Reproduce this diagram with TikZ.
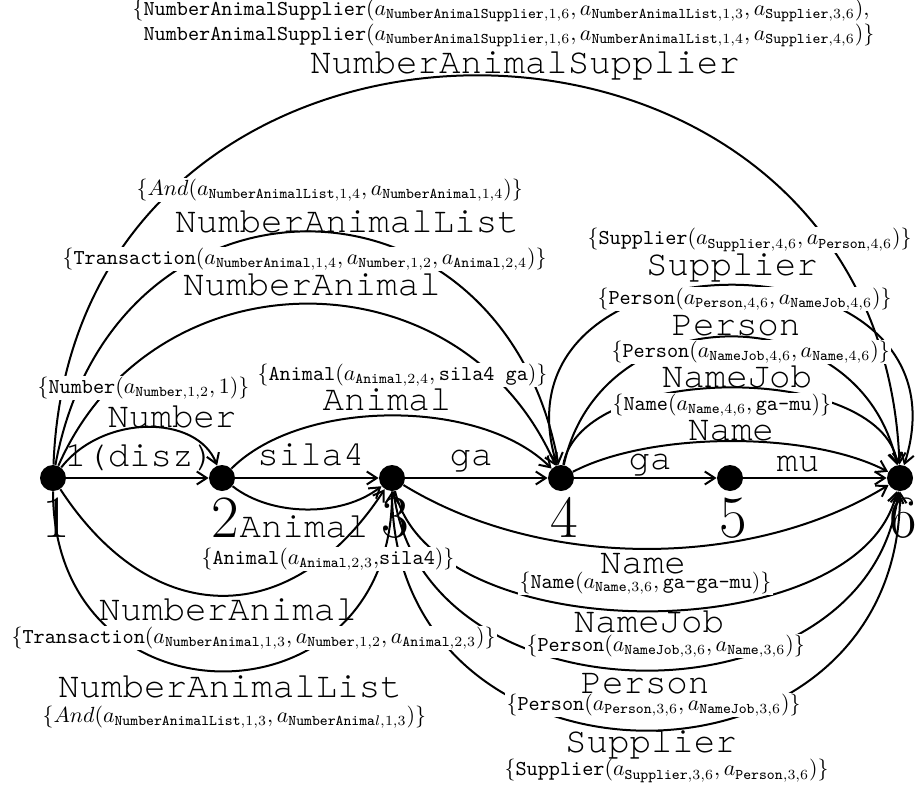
\documentclass[tikz,border=0pt]{standalone}
\usepackage{fontspec}
\newfontfamily\lblfont{texgyrecursor-regular.otf}
\usetikzlibrary{arrows.meta}

% argument term a_{Category,i,j}
\newcommand\asub[2]{a_{\mathtt{#1},#2}}

\begin{document}
\begin{tikzpicture}[x=0.5pt,y=-0.5pt,
  vert/.style={circle,fill=black,minimum size=13pt,inner sep=0pt},
  link/.style={line width=1pt,-{Straight Barb[length=5pt,width=6.5pt]}},
  lbl/.style={font=\lblfont\fontsize{17.9}{18}\selectfont,inner sep=0pt,anchor=base},
  ann/.style={fill=white,inner sep=0.6pt,anchor=west,font=\fontsize{10.6}{11}\selectfont},
  num/.style={font=\fontsize{30}{30}\selectfont,inner sep=0pt,anchor=base}]
\useasboundingbox (0,0) rectangle (917,793);

% chart vertices
\node[vert] (n1) at (53,478) {};
\node[vert] (n2) at (222,478) {};
\node[vert] (n3) at (392,478) {};
\node[vert] (n4) at (561,478) {};
\node[vert] (n5) at (730,478) {};
\node[vert] (n6) at (900,478) {};

% lexical edges
\draw[link] (n1) -- (n2);
\draw[link] (n2) -- (n3);
\draw[link] (n3) -- (n4);
\draw[link] (n4) -- (n5);
\draw[link] (n5) -- (n6);

% constituent edges above the line
\draw[link] (n1) .. controls (103,414) and (197,414) .. (n2);
\draw[link] (n2) .. controls (302,398) and (481,398) .. (n4);
\draw[link] (n1) .. controls (153,250) and (461,250) .. (n4);
\draw[link] (n1) .. controls (113,154) and (501,154) .. (n4);
\draw[link] (n1) .. controls (73,-54) and (880,-54) .. (n6);
\draw[link] (n4) .. controls (651,431) and (810,431) .. (n6);
\draw[link] (n4) .. controls (581,362) and (880,362) .. (n6);
\draw[link] (n4) .. controls (601,294) and (860,294) .. (n6);
\draw[link] (n4) .. controls (481,225) and (980,225) .. (n6);

% constituent edges below the line
\draw[link] (n2) .. controls (272,517) and (342,517) .. (n3);
\draw[link] (n1) .. controls (153,631) and (292,631) .. (n3);
\draw[link] (n1) .. controls (53,731) and (392,731) .. (n3);
\draw[link] (n3) .. controls (542,570) and (750,570) .. (n6);
\draw[link] (n3) .. controls (432,651) and (860,651) .. (n6);
\draw[link] (n3) .. controls (422,730) and (870,730) .. (n6);
\draw[link] (n3) .. controls (392,810) and (900,810) .. (n6);

% semantic annotations (white boxes break the edges behind them)
\node[ann,align=left] (aNAS) at (131,23)
  {$\{\mathtt{NumberAnimalSupplier}(\asub{NumberAnimalSupplier}{1,6}, \asub{NumberAnimalList}{1,3}, \asub{Supplier}{3,6}),$\\
   $\phantom{\{}\mathtt{NumberAnimalSupplier}(\asub{NumberAnimalSupplier}{1,6}, \asub{NumberAnimalList}{1,4}, \asub{Supplier}{4,6})\}$};
\node[ann] (aNALu) at (135,190) {$\{And(\asub{NumberAnimalList}{1,4}, \asub{NumberAnimal}{1,4})\}$};
\node[ann] (aNAu) at (61,259) {$\{\mathtt{Transaction}(\asub{NumberAnimal}{1,4}, \asub{Number}{1,2}, \asub{Animal}{2,4})\}$};
\node[ann] (aNum) at (36,388) {$\{\mathtt{Number}(\asub{Number}{1,2}, 1)\}$};
\node[ann] (aAnu) at (256,375) {$\{\mathtt{Animal}(\asub{Animal}{2,4}, \mbox{\ttfamily sila4 ga})\}$};
\node[ann] (aSupu) at (586,240) {$\{\mathtt{Supplier}(\asub{Supplier}{4,6}, \asub{Person}{4,6})\}$};
\node[ann] (aPeru) at (596,299) {$\{\mathtt{Person}(\asub{Person}{4,6}, \asub{NameJob}{4,6})\}$};
\node[ann] (aNJu) at (610,352) {$\{\mathtt{Person}(\asub{NameJob}{4,6}, \asub{Name}{4,6})\}$};
\node[ann] (aNamu) at (611,405) {$\{\mathtt{Name}(\asub{Name}{4,6}, \mbox{\ttfamily ga-mu})\}$};
\node[ann] (aAnd) at (200,559) {$\{\mathtt{Animal}(\asub{Animal}{2,3},\!\mathtt{sila4})\}$};
\node[ann] (aNAd) at (10,638) {$\{\mathtt{Transaction}(\asub{NumberAnimal}{1,3}, \asub{Number}{1,2}, \asub{Animal}{2,3})\}$};
\node[ann] (aNALd) at (41,717) {$\{And(\asub{NumberAnimalList}{1,3}, a_{\mathtt{NumberAnima}l,1,3})\}$};
\node[ann] (aNamd) at (518,583) {$\{\mathtt{Name}(\asub{Name}{3,6}, \mbox{\ttfamily ga-ga-mu})\}$};
\node[ann] (aNJd) at (525,646) {$\{\mathtt{Person}(\asub{NameJob}{3,6}, \asub{Name}{3,6})\}$};
\node[ann] (aPerd) at (505,705) {$\{\mathtt{Person}(\asub{Person}{3,6}, \asub{NameJob}{3,6})\}$};
\node[ann] (aSupd) at (503,771) {$\{\mathtt{Supplier}(\asub{Supplier}{3,6}, \asub{Person}{3,6})\}$};

% vertex numbers
\node[num] (d1) at (56,537) {1};
\node[num] (d2) at (225,537) {2};
\node[num] (d3) at (395,537) {3};
\node[num] (d4) at (564,537) {4};
\node[num] (d5) at (733,537) {5};
\node[num] (d6) at (903,537) {6};

% words on the lexical edges
\node[lbl] (w1) at (140,466) {1(disz)};
\node[lbl] (w2) at (311,465) {sila4};
\node[lbl] (w3) at (471,465) {ga};
\node[lbl] (w4) at (650,469) {ga};
\node[lbl] (w5) at (798,471) {mu};

% category labels
\node[lbl] (lNAS) at (525,73) {NumberAnimalSupplier};
\node[lbl] (lNALu) at (347,232) {NumberAnimalList};
\node[lbl] (lNAu) at (312,295) {NumberAnimal};
\node[lbl] (lAnu) at (387,410) {Animal};
\node[lbl] (lNum) at (172,427) {Number};
\node[lbl] (lSupu) at (732,275) {Supplier};
\node[lbl] (lPeru) at (736,335) {Person};
\node[lbl] (lNJu) at (737,387) {NameJob};
\node[lbl] (lNamu) at (731,440) {Name};
\node[lbl] (lAnd) at (304,537) {Animal};
\node[lbl] (lNAd) at (228,620) {NumberAnimal};
\node[lbl] (lNALd) at (230,697) {NumberAnimalList};
\node[lbl] (lNamd) at (643,573) {Name};
\node[lbl] (lNJd) at (649,632) {NameJob};
\node[lbl] (lPerd) at (645,693) {Person};
\node[lbl] (lSupd) at (651,752) {Supplier};
\end{tikzpicture}
\end{document}
